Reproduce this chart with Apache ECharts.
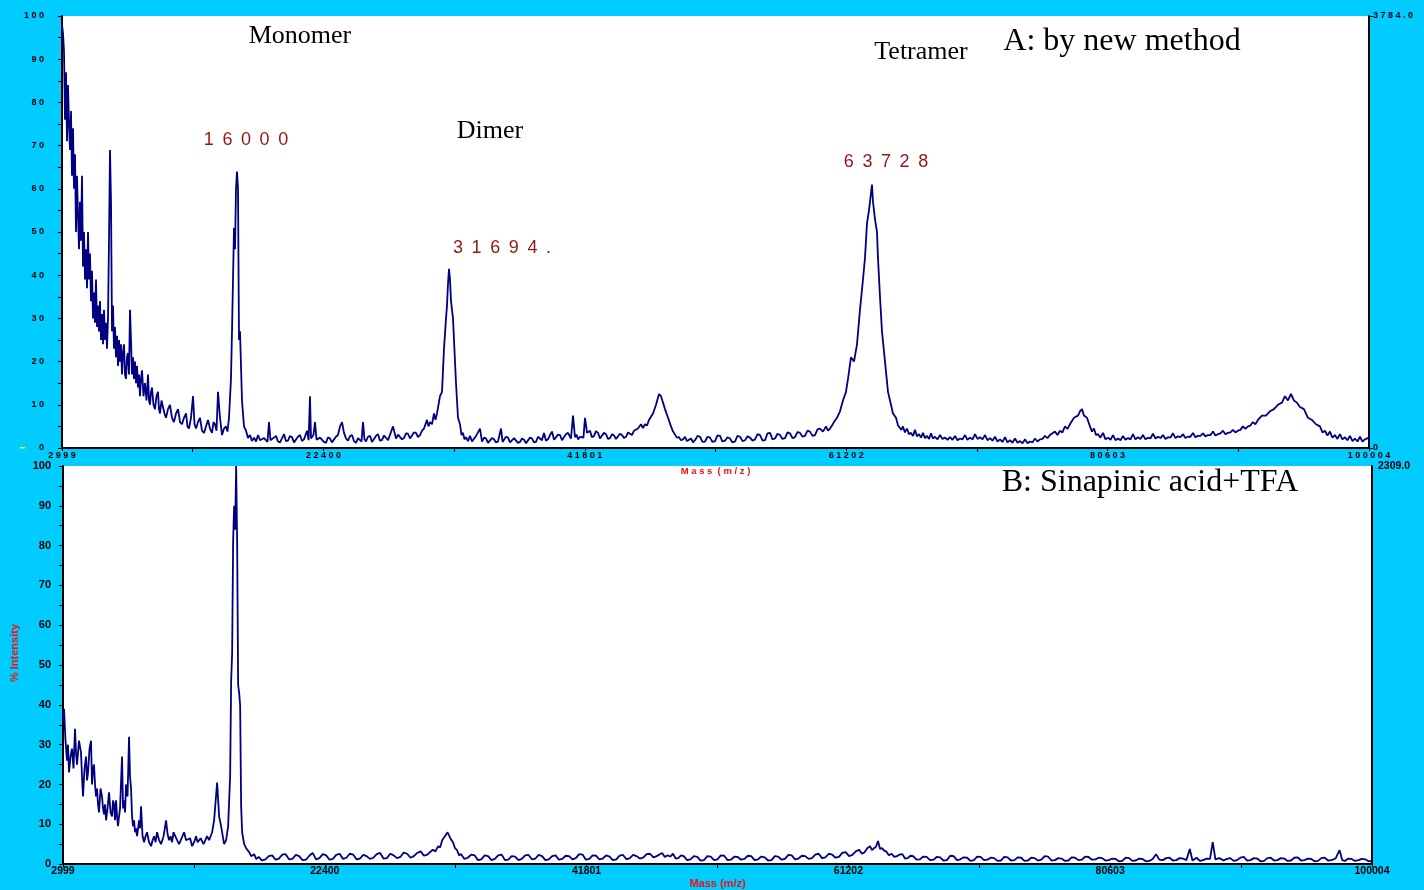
<!DOCTYPE html>
<html>
<head>
<meta charset="utf-8">
<title>MALDI spectra</title>
<script src="https://cdn.jsdelivr.net/npm/echarts@6/dist/echarts.min.js"></script>
<style>
  html, body { margin: 0; padding: 0; background: #00ccff; }
  #chart { width: 1424px; height: 890px; }
</style>
</head>
<body>
<div id="chart"></div>
<script>
// mass axis ticks (m/z)
const massTicks = [2999, 22400, 41801, 61202, 80603, 100004]
// raw intensity at 100 %
const fullScaleA = 3784.0
const fullScaleB = 2309.0

// A: by new method  [mass, % intensity]
const spectrumA = [
  [2999,98],[3073,96],[3147,92],[3222,76],[3296,87],[3370,71],[3444,84],[3519,75],[3593,69],[3667,78],
  [3741,63],[3815,74],[3890,60],[3964,68],[4038,50],[4112,63],[4187,54],[4261,46],[4335,57],[4409,48],
  [4483,63],[4558,42],[4632,50],[4706,39],[4780,46],[4855,37],[4929,50],[5003,39],[5077,45],[5151,34],
  [5226,41],[5300,30],[5374,36],[5448,29],[5522,39],[5596,28],[5671,33],[5745,27],[5819,34],[5893,25],
  [5968,31],[6042,24],[6116,32],[6190,25],[6265,29],[6339,23],[6413,30],[6487,48],
  [6562,69],[6636,57],[6710,27],[6784,33],[6858,23],[6932,28],[7007,21],[7081,26],[7155,19],[7230,25],[7304,20],[7378,24],[7452,17],[7527,22],[7601,24],
  [7675,17],[7749,16],[7823,21],[7898,22],[7972,17],[8046,32],[8120,25],[8194,17],[8268,21],[8343,16],[8417,20],[8491,15],[8566,19],[8640,14],[8714,17],[8788,12],[8862,16],[8937,18],
  [9048,12],[9159,15],[9270,11],[9382,17],[9456,11],[9531,10],[9605,13],[9679,14],[9790,10],[9901,9],[10012,12],[10124,13],[10198,9],[10273,8],[10384,11],[10495,11],[10606,8],[10717,7],[10866,9],[11015,10],
  [11162,7],[11310,6],[11460,8],[11611,9],[11758,6],[11905,5.5],[12054,7],[12202,8],[12313,5],[12425,4.5],[12574,7],[12722,12],[12834,5.5],[12945,4.5],[13092,6],[13240,7],[13390,4],[13538,3.5],[13686,5],[13835,6.5],
  [13984,4.5],[14132,3.5],[14244,6],[14355,5.5],[14466,4],[14578,13],[14726,7],[14875,3],[15022,4.5],[15170,5],[15282,3.8],[15394,7],[15540,16],[15617,27],[15690,27],
  [15765,51],[15839,46],[15913,60],[15988,64],[16062,60],[16136,25],[16210,27],[16359,11],[16508,5],[16656,4],
  [16804,2.3],[16952,3],
  [17100,1.6],[17249,2.4],[17400,1.5],[17546,3],[17700,1.8],[17843,1.5],[18000,2.3],[18140,2.6],[18250,1.4],[18362,6],[18470,1.8],[18585,1.6],[18730,2.4],[18882,2.8],[19030,1.5],[19179,1.3],[19330,2.3],[19476,3.2],[19620,1.6],[19773,1.7],
  [19920,2.8],[20070,2.5],[20220,1.3],[20366,1.4],[20510,2.6],[20663,3],[20810,1.6],[20960,2],[21183,4],[21300,1.8],[21406,12],[21480,2.2],[21554,2],[21660,3],[21777,6],[21890,1.9],[22000,1.5],[22150,2.4],[22296,2.6],
  [22440,1.4],[22593,1.2],[22740,2.5],[22890,2.2],[23040,1.3],[23187,1.5],[23330,2.6],[23484,3],[23632,5],[23781,6],[23929,3.5],[24080,2.2],[24226,1.7],[24370,2.7],[24523,3],[24670,1.6],[24820,1.2],
  [24970,2.3],[25117,2.4],[25230,1.5],[25339,6],[25450,2],[25562,1.5],[25710,2.6],[25859,2.8],[26010,1.4],[26156,1.6],[26300,2.8],[26452,3.2],[26600,1.7],[26749,1.8],[26900,2.9],[27046,3],[27200,1.8],[27343,2],[27566,5],
  [27789,2.2],[27940,3.1],[28086,3],[28230,2],[28382,2.3],[28530,3.4],[28679,3.3],[28830,2.2],[28976,2.6],[29120,3.6],[29273,3.5],[29420,2.5],[29570,3],[29720,4],[29866,4.5],[30089,6.5],[30200,5],[30312,6],
  [30460,5.5],[30609,8],[30720,6.5],[30832,8],[31054,12],[31203,13],[31351,23],[31500,30],[31574,33],[31648,38],[31722,41.5],
  [31797,39],[31871,34],[32019,30],[32242,15],[32390,7],[32539,5.5],[32650,3],[32762,3.5],[32870,2],[32984,2.5],[33130,1.6],[33281,2.8],
  [33430,1.5],[33578,1.8],[33730,2.8],[33875,2.6],[34023,4.5],[34172,1.5],[34320,2.4],[34469,2.2],[34620,1.2],[34766,1.3],[34910,2.3],[35062,2],[35210,1.3],[35359,1.5],[35582,4.5],[35700,1.4],[35804,1.7],
  [35950,2.6],[36101,2.4],[36250,1.3],[36398,1.2],[36550,2.3],[36695,2],[36840,1.2],[36992,1.4],[37140,2.2],[37289,1.9],[37440,1.1],[37586,1.2],[37730,2.4],[37882,2.2],[38030,1.3],[38179,1.4],[38330,2.6],[38476,2.4],[38620,1.8],[38773,3.5],
  [38920,1.7],[39070,2],[39220,3],[39367,3.8],[39520,1.9],[39664,2.2],[39810,3.1],[39961,3],[40110,1.8],[40257,2],[40400,3.2],[40554,3.5],[40777,2.2],[40925,7.5],[41074,2.5],[41190,3.1],[41297,2],
  [41450,2.6],[41593,3],[41700,2.4],[41816,7],[41965,3.5],[42188,4],[42330,2.5],[42485,2.8],[42630,3.9],[42781,3.5],[42930,2.2],[43078,2.5],[43220,3.5],[43375,3.2],[43520,2.1],[43672,2.3],[43820,3.2],[43969,2.9],
  [44120,2.1],[44266,2.4],[44410,3.3],[44562,3],[44710,2.3],[44859,2.6],[45010,3.6],[45156,3.4],[45300,3],[45453,4],[45600,3.6],[45750,4.5],[45972,5.5],[46120,4.6],[46269,5.5],[46420,5.2],[46566,6.5],[46710,6.2],[46863,8],
  [47086,10],[47308,12.5],[47457,12],[47605,10.5],[47754,9],[47977,7],[48199,5],[48350,3.8],[48496,3.5],[48640,2.4],[48793,2.5],[48940,1.8],[49090,2],
  [49240,2.6],[49387,1.6],[49530,1.4],[49684,2.2],[49830,1.3],
  [49982,1.8],[50170,2.8],[50353,2.6],[50540,1.4],[50724,1.5],[50910,2.6],[51095,2.4],[51280,1.4],[51466,1.6],[51650,2.9],[51837,2.8],[52020,1.5],[52208,1.7],[52390,2.5],[52579,2.2],[52760,1.3],[52950,1.5],[53130,2.8],[53321,2.6],
  [53510,1.6],[53692,1.8],[53880,2.7],[54062,2.4],[54250,1.7],[54434,2],[54620,3.2],[54805,3],[55000,1.7],[55176,1.8],[55360,3.4],[55547,3.5],[55730,2],[55918,2.2],[56100,3.3],[56289,3],[56470,2.1],[56660,2.3],[56850,3.6],[57031,3.4],
  [57220,2.3],[57402,2.5],[57590,3.7],[57773,3.5],[57960,2.6],[58144,2.8],[58330,4],[58514,3.8],[58700,2.8],[58886,3],[59070,4.3],[59257,4.5],[59479,3.8],[59702,5],[59850,4],[59999,4.5],[60150,5.2],[60296,6],
  [60518,7],[60741,8.5],[60964,11],[61186,13],[61335,16],[61557,21],[61780,20],[62003,24],[62225,32],[62448,39],
  [62596,44],[62745,52],[62893,55],[63041,59],[63116,61],[63190,57],[63338,53],[63487,50],[63561,44],[63710,35],
  [63858,27],[64081,20],[64304,13],[64452,11],[64675,8],[64898,7],[65050,5.2],[65195,5.5],[65300,4.2],[65417,5],[65560,3.6],[65714,4.5],[65860,3.2],[66011,3.5],
  [66160,2.8],[66308,4.2],[66450,2.7],[66605,3.2],[66750,2.4],[66902,3.5],[67050,2.3],[67199,2.8],[67350,2.1],[67496,3.4],[67640,2.2],[67792,2.6],[67980,2],[68163,3],[68350,2.1],[68534,2.4],[68720,1.9],[68905,2.5],
  [69090,1.9],[69278,2.8],[69460,1.8],[69649,2.2],[69830,2],[70020,3],[70200,1.9],[70391,2.4],[70580,2],[70762,3.2],[70950,2.1],[71133,2.5],[71320,2],[71504,3],[71690,1.8],[71875,2.3],[72060,1.7],[72246,2.6],[72430,1.5],[72617,2],
  [72800,1.4],[72988,2.5],[73170,1.3],[73359,1.8],[73540,1.2],[73730,2.2],[73920,1.2],[74101,1.6],[74290,1.1],[74471,2],[74660,1.1],[74842,1.5],[75030,1.3],[75213,2.2],[75400,1.5],[75584,2],[75770,2.1],[75955,2.8],[76140,2.3],[76326,3],
  [76697,3.8],[76880,3],[77068,4],[77250,3.6],[77439,5],[77620,4.4],[77810,5.5],[78107,7],[78404,7.5],[78552,8.5],[78701,9],[78849,7.5],[79072,7],
  [79295,5],[79450,3.8],[79592,4.5],[79740,3],[79889,3.2],[80070,2.4],[80260,3.5],[80450,2],[80631,2.4],[80820,1.9],[81002,3],[81190,1.8],[81373,2.2],[81560,1.8],[81744,2.8],[81930,1.9],[82115,2.3],[82300,2],[82486,3.2],
  [82670,2],[82857,2.5],[83040,2.1],[83228,3],[83410,2],[83599,2.4],[83780,2.2],[83970,3.3],[84160,2.2],[84341,2.6],[84530,2.3],[84712,3],[84900,2.1],[85083,2.5],[85270,2.4],[85454,3.4],[85640,2.3],[85825,2.7],[86010,2.5],[86196,3.2],
  [86380,2.3],[86567,2.6],[86750,2.6],[86938,3.5],[87120,2.5],[87309,2.8],[87490,2.8],[87680,3.4],[87860,2.7],[88051,3],[88240,3],[88422,3.8],[88610,2.9],[88793,3.2],[88980,3.4],[89164,4],[89350,3.2],[89535,3.5],[89720,3.6],[89906,4.2],
  [90090,3.6],[90277,4],[90460,4.2],[90648,5],[90830,4.4],[91019,5],[91200,5.2],[91390,6],[91570,5.5],[91761,6.5],[92058,7.5],[92355,7.5],[92652,8.5],[92949,9],[93246,10],
  [93543,10.5],[93765,12],[93988,11],[94211,12.5],[94433,11],[94656,10.5],[94879,9.5],[95176,9],[95473,7],[95770,6.5],
  [96067,5.5],[96364,5],[96550,3.6],[96735,4],[96920,2.9],[97106,3.8],[97290,2.4],[97477,3],[97660,2.1],[97848,3.2],[98030,2],[98219,2.5],[98400,1.8],[98590,2.8],[98780,1.6],[98961,2.2],[99150,1.5],[99332,2.6],[99520,1.5],
  [99703,2],[99850,1.6],[100004,2.4]
]

// B: Sinapinic acid+TFA  [mass, % intensity]
const spectrumB = [
  [2999,36],[3073,39],[3185,31],[3296,26],[3370,30],[3444,23],[3555,27],[3666,29],[3777,24],[3889,34],[3963,28],[4037,25],[4185,31],[4334,28],[4408,22],[4482,17],[4594,24],[4705,27],
  [4779,21],[4853,23],[4964,29],[5075,31],[5150,20],[5224,24],[5298,25],[5372,20],[5446,17],[5520,19],[5595,15],[5669,13],[5780,19],[5891,17],[5965,14],[6039,12.5],[6114,15],[6188,11],
  [6299,14],[6410,18],[6521,13],[6633,12],[6707,16],[6781,15],[6855,11],[6929,16],[7004,12],[7078,9.5],[7152,12],[7226,14],[7374,27],[7449,14],[7523,16],[7597,13],[7671,20],[7782,17],[7893,32],
  [7967,22],[8042,19],[8116,12],[8190,9.5],[8264,11],[8338,8],[8412,9],[8487,7],[8561,9],[8635,11],[8709,9],[8783,14.5],[8895,7],[9006,5.5],[9117,7],[9228,8],[9376,5.5],[9525,4.5],[9636,6],[9747,7],
  [9858,5.5],[9970,8],[10118,6],[10266,5],[10452,7],[10637,11],[10749,7.5],[10860,6],[10971,7],[11082,5.5],[11194,8],[11305,7.5],[11454,6],[11602,5],[11787,6.5],[11972,8],[12121,6],[12269,5.5],[12418,6.5],[12566,4.5],
  [12714,5.5],[12862,7],[12974,5.5],[13085,5],[13196,6.5],[13307,7],[13419,5],[13530,5.5],[13679,7],[13827,6],[13938,6.5],[14049,8],[14197,11],[14420,20.5],[14568,12],[14717,9.5],
  [14939,5],[15087,6],[15236,9.5],[15384,22],[15459,46],[15533,53],[15607,81],[15681,90],[15755,84],[15830,100],
  [15904,81],[15978,45],[16052,43],[16126,40],[16200,14.5],[16274,8],[16423,5],[16571,4],[16793,3],[16942,2],
  [17164,2.5],[17312,1.3],
  [17500,1.8],[17750,0.9],[18000,1.2],[18250,2],[18500,2.2],[18750,1.1],[19000,1.4],[19250,2.4],[19500,2.5],[19750,1.2],[20000,1.3],[20250,2.3],[20500,2],[20750,1],[21000,1.1],[21250,2.1],[21500,2.8],[21750,1.2],[22000,1.5],
  [22250,2.5],[22500,2.2],[22750,1.1],[23000,1.3],[23250,2.3],[23500,2.6],[23750,1.3],[24000,1.6],[24250,2.6],[24500,2.4],[24750,1.2],[25000,1.4],[25250,2.3],[25500,2],[25750,1.3],[26000,1.6],[26250,2.5],[26500,2.8],[26750,1.4],[27000,1.5],
  [27250,2.6],[27500,2.2],[27750,1.5],[28000,1.8],[28250,2.9],[28500,2.6],[28750,1.6],[29000,2],[29250,2.8],[29500,3.2],[29750,2.1],[30000,2.4],[30200,3],[30400,3.6],[30600,3.2],[30800,4.5],[30950,4.2],[31100,6],[31300,7],
  [31500,8],[31700,6.5],[31900,5.5],[32050,4],[32200,3.5],[32350,2.2],[32500,2.5],[32750,1.3],[33000,1.6],[33250,2.4],[33500,2.2],[33750,1],[34000,1.2],[34250,2.2],[34500,2],[34750,1],[35000,1.3],
  [35250,2.2],[35500,2.4],[35750,1],[36000,1.1],[36250,2],[36500,1.9],[36750,1],[37000,1.3],[37250,2.2],[37500,2.3],[37750,1.2],[38000,1.4],[38250,2.3],[38500,2],[38750,1],[39000,1.2],[39250,2],[39500,2.2],[39750,1.1],[40000,1.3],
  [40250,2.1],[40500,2],[40750,1.2],[41000,1.5],[41250,2.5],[41500,2.4],[41750,1.1],[42000,1.3],[42250,2.2],[42500,2.1],[42750,1.2],[43000,1.4],[43250,2.2],[43500,1.9],[43750,1],[44000,1.2],[44250,2.1],[44500,2.3],[44750,1.2],[45000,1.5],
  [45250,2.3],[45500,2],[45750,1.4],[46000,1.6],[46250,2.5],[46500,2.6],[46750,1.7],[47000,2],[47200,2.4],[47400,2.8],[47600,1.8],[47800,2.2],[48000,1.9],[48200,2.6],[48400,1.4],[48600,1.5],[48800,2.2],[49000,2],[49250,1],[49500,1.2],
  [49750,2],[50000,1.8],[50250,0.9],[50500,1],[50750,2],[51000,1.9],[51250,1],[51500,1.2],[51750,2.2],[52000,2.1],[52250,1],[52500,1.1],[52750,1.9],[53000,1.8],[53250,1.1],[53500,1.3],[53750,2.1],[54000,2],[54250,1],[54500,1.2],
  [54750,1.9],[55000,1.7],[55250,0.9],[55500,1],[55750,2],[56000,1.9],[56250,1.1],[56500,1.3],[56750,2.3],[57000,2.2],[57250,1.2],[57500,1.4],[57750,2.1],[58000,2],[58250,1.3],[58500,1.5],[58750,2.4],[59000,2.6],[59250,1.5],[59500,1.7],
  [59750,2.6],[60000,2.4],[60250,1.6],[60500,1.8],[60750,2.8],[61000,3],[61250,2],[61500,2.3],[61750,3.2],[62000,3.6],[62200,2.6],[62400,3],[62600,4],[62800,4.5],[62950,3.5],[63100,4],[63250,4.4],[63400,5.8],[63550,3.8],[63700,4],
  [63850,3.4],[64000,3.2],[64200,2.2],[64400,2.6],[64600,1.8],[64800,2],[65000,2.4],[65200,2.5],[65400,1.4],[65600,1.5],[65800,2.1],[66000,2],[66250,1.1],[66500,1.2],[66750,1.9],[67000,1.8],[67250,1],[67500,1.1],[67750,1.8],[68000,1.7],
  [68250,0.9],[68500,1],[68750,2.1],[69000,2],[69250,1],[69500,1.2],[69750,1.7],[70000,1.6],[70250,0.8],[70500,1],[70750,1.9],[71000,1.8],[71250,1],[71500,1.1],[71750,1.6],[72000,1.5],[72250,0.8],[72500,0.9],[72750,1.8],[73000,1.7],
  [73250,0.9],[73500,1],[73750,1.7],[74000,1.6],[74250,0.8],[74500,0.9],[74750,1.6],[75000,1.5],[75250,0.9],[75500,1.1],[75750,2],[76000,1.9],[76250,0.9],[76500,1],[76750,1.5],[77000,1.4],[77250,0.8],[77500,0.9],[77750,1.7],[78000,1.6],
  [78250,1],[78500,1.1],[78750,1.9],[79000,1.8],[79250,1.1],[79500,1.2],[79750,1.6],[80000,1.5],[80250,0.9],[80500,1],[80750,1.4],[81000,1.3],[81250,0.7],[81500,0.8],[81750,1.6],[82000,1.5],[82250,0.8],[82500,0.9],[82750,1.4],[83000,1.3],
  [83250,0.7],[83500,0.8],[83750,1.3],[84000,2.5],[84250,1.1],[84500,1],[84750,1.5],[85000,1.6],[85250,0.9],[85500,1],[85750,1.5],[86000,1.4],[86250,1],[86500,3.8],[86700,0.9],[87000,1.6],[87250,0.8],[87500,1],
  [87750,1.4],[88000,1.3],[88200,5.5],[88400,1.2],[88700,1.5],[89000,0.9],[89250,1.3],[89500,1.5],[89750,0.8],[90000,1],[90250,1.6],[90500,1.8],[90750,0.9],[91000,1],[91250,1.5],[91500,1.4],[91750,0.7],[92000,0.8],
  [92250,1.5],[92500,1.6],[92750,0.9],[93000,1],[93250,1.5],[93500,1.4],[93750,0.8],[94000,0.9],[94250,1.6],[94500,1.7],[94750,0.9],[95000,1],[95250,1.4],[95500,1.3],[95750,0.7],[96000,0.8],[96250,1.5],[96500,1.6],[96750,0.9],[97000,1],
  [97300,1.4],[97600,3.5],[97800,1],[98000,0.8],[98250,1.4],[98500,1.3],[98750,0.8],[99000,1],[99250,1.3],[99500,1.2],[99750,0.7],[100000,0.8]
]

const spaced = v => String(v).split('').join(' ')
const gap = ' \u2009'

const chart = echarts.init(document.getElementById('chart'))

const axisBlack = { show: true, lineStyle: { color: '#000', width: 2 } }
const tick = { show: true, length: 4, lineStyle: { color: '#000', width: 1 } }
const minor = { show: true, splitNumber: 2, length: 4, lineStyle: { color: '#000', width: 1 } }
const serif = '"Liberation Serif", "Times New Roman", serif'
const sans = '"Liberation Sans", Arial, sans-serif'

const txt = (x, y, text, font, fill, rotation) => ({
  type: 'text', x, y, rotation: rotation || 0, silent: true,
  style: { text, font, fill, textAlign: 'center', textVerticalAlign: 'middle', align: 'center', verticalAlign: 'middle' }
})

const option = {
  animation: false,
  backgroundColor: '#00ccff',
  grid: [
    { left: 62, top: 16, width: 1307, height: 432, show: true, backgroundColor: '#fff', borderWidth: 0 },
    { left: 63, top: 466, width: 1309, height: 399, show: true, backgroundColor: '#fff', borderWidth: 0 }
  ],
  xAxis: [
    {
      gridIndex: 0, type: 'value',
      min: massTicks[0], max: massTicks[massTicks.length - 1], interval: massTicks[1] - massTicks[0],
      axisLine: axisBlack, axisTick: { ...tick, length: 3 }, minorTick: minor, splitLine: { show: false },
      axisLabel: { color: '#000', fontWeight: 'bold', fontSize: 9, fontFamily: sans, margin: 3, formatter: spaced, showMinLabel: true, showMaxLabel: true },
      name: 'M a s s  ( m / z )', nameLocation: 'middle', nameGap: 18,
      nameTextStyle: { color: '#ee1111', fontWeight: 'bold', fontSize: 9.5, fontFamily: sans }
    },
    {
      gridIndex: 1, type: 'value',
      min: massTicks[0], max: massTicks[massTicks.length - 1], interval: massTicks[1] - massTicks[0],
      axisLine: axisBlack, axisTick: { ...tick, length: 3 }, minorTick: minor, splitLine: { show: false },
      axisLabel: { color: '#000', fontWeight: 'bold', fontSize: 10.5, fontFamily: sans, margin: 2, formatter: v => String(v), showMinLabel: true, showMaxLabel: true },
      name: 'Mass (m/z)', nameLocation: 'middle', nameGap: 13,
      nameTextStyle: { color: '#ee1111', fontWeight: 'bold', fontSize: 11, fontFamily: sans }
    }
  ],
  yAxis: [
    {
      gridIndex: 0, type: 'value', min: 0, max: 100, interval: 10,
      axisLine: axisBlack, axisTick: tick, minorTick: minor, splitLine: { show: false },
      axisLabel: { color: '#000', fontWeight: 'bold', fontSize: 9, fontFamily: sans, margin: 18, formatter: spaced }
    },
    {
      gridIndex: 0, type: 'value', position: 'right', min: 0, max: fullScaleA, interval: fullScaleA,
      axisLine: axisBlack, axisTick: tick, splitLine: { show: false },
      axisLabel: { color: '#000', fontWeight: 'bold', fontSize: 9, fontFamily: sans, margin: 4,
        formatter: v => v === 0 ? '0' : spaced(v.toFixed(1)) }
    },
    {
      gridIndex: 1, type: 'value', min: 0, max: 100, interval: 10,
      axisLine: axisBlack, axisTick: tick, minorTick: minor, splitLine: { show: false },
      axisLabel: { color: '#000', fontWeight: 'bold', fontSize: 11, fontFamily: sans, margin: 12 }
    },
    {
      gridIndex: 1, type: 'value', position: 'right', min: 0, max: fullScaleB, interval: fullScaleB,
      axisLine: axisBlack, axisTick: { show: false }, splitLine: { show: false },
      axisLabel: { color: '#000', fontWeight: 'bold', fontSize: 10.5, fontFamily: sans, margin: 6,
        formatter: v => v === 0 ? '' : v.toFixed(1) }
    }
  ],
  series: [
    {
      type: 'line', xAxisIndex: 0, yAxisIndex: 0, data: spectrumA,
      showSymbol: false, lineStyle: { color: '#000080', width: 1.8 }, silent: true
    },
    {
      type: 'line', xAxisIndex: 1, yAxisIndex: 2, data: spectrumB,
      showSymbol: false, lineStyle: { color: '#000080', width: 1.8 }, silent: true
    }
  ],
  graphic: [
    txt(300, 36, 'Monomer', '26px ' + serif, '#000'),
    txt(490, 131, 'Dimer', '26px ' + serif, '#000'),
    txt(921, 52, 'Tetramer', '26px ' + serif, '#000'),
    txt(1122, 42, 'A: by new method', '32px ' + serif, '#000'),
    txt(1150, 483, 'B: Sinapinic acid+TFA', '32px ' + serif, '#000'),
    txt(246, 140, '16000'.split('').join(gap), '18px ' + sans, '#961414'),
    txt(502, 248, '31694.'.split('').join(gap), '18px ' + sans, '#961414'),
    txt(886, 162, '63728'.split('').join(gap), '18px ' + sans, '#961414'),
    txt(15, 653, '% Intensity', 'bold 11px ' + sans, '#ee1111', Math.PI / 2),
    { type: 'rect', silent: true, shape: { x: 20, y: 447, width: 5, height: 1.5 }, style: { fill: '#ffff00' } }
  ]
}

chart.setOption(option)
</script>
</body>
</html>
